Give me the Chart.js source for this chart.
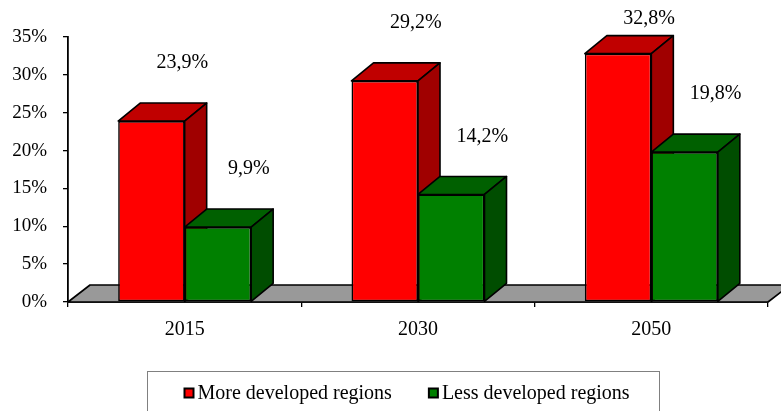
<!DOCTYPE html>
<html>
<head>
<meta charset="utf-8">
<script src="https://cdn.jsdelivr.net/npm/chart.js@4.4.0/dist/chart.umd.min.js"></script>
<style>
  html, body { margin: 0; padding: 0; background: #fff; }
  #wrap { width: 781px; height: 411px; }
</style>
</head>
<body>
<div id="wrap"><canvas id="chart"></canvas></div>
<script>
"use strict";

// data
const years = ["2015", "2030", "2050"];
const moreDeveloped = [23.9, 29.2, 32.8];
const lessDeveloped = [9.9, 14.2, 19.8];
const seriesNames = ["More developed regions", "Less developed regions"];
const yMax = 35;
const yStep = 5;

// look
const FONT = "'Liberation Serif', 'Times New Roman', serif";
const frontColors = ["#ff0000", "#008000"];
const topColors = ["#c00000", "#006000"];
const sideColors = ["#a00000", "#004d00"];
const DX = 22;
const DY = -18;

function fmt(v) {
  return v.toFixed(1).replace(".", ",") + "%";
}

function poly(ctx, pts, fill) {
  ctx.beginPath();
  ctx.moveTo(pts[0][0], pts[0][1]);
  pts.slice(1).forEach((p) => ctx.lineTo(p[0], p[1]));
  ctx.closePath();
  ctx.fillStyle = fill;
  ctx.fill();
  ctx.stroke();
}

// floor + top/side faces, drawn behind the front faces
const depthPlugin = {
  id: "depth",
  beforeDatasetsDraw(chart) {
    const { ctx, chartArea: a } = chart;
    ctx.save();
    ctx.strokeStyle = "#000";
    ctx.lineWidth = 1.6;
    ctx.lineJoin = "round";
    poly(ctx, [
      [a.left, a.bottom],
      [a.left + DX, a.bottom + DY + 1],
      [a.right + DX, a.bottom + DY + 1],
      [a.right, a.bottom],
    ], "#999999");

    years.forEach((_, i) => {
      chart.data.datasets.forEach((ds, d) => {
        const bar = chart.getDatasetMeta(d).data[i];
        const { x, y, base, width } = bar.getProps(["x", "y", "base", "width"], true);
        const l = x - width / 2;
        const r = x + width / 2;
        poly(ctx, [[l, y], [l + DX, y + DY], [r + DX, y + DY], [r, y]], topColors[d]);
        poly(ctx, [[r, y], [r + DX, y + DY], [r + DX, base + DY], [r, base]], sideColors[d]);
      });
    });
    ctx.restore();
  },
  afterDatasetsDraw(chart) {
    const { ctx } = chart;
    ctx.save();
    ctx.font = "20px " + FONT;
    ctx.fillStyle = "#000";
    ctx.textAlign = "center";
    ctx.textBaseline = "middle";
    chart.data.datasets.forEach((ds, d) => {
      chart.getDatasetMeta(d).data.forEach((bar, i) => {
        const { x, y } = bar.getProps(["x", "y"], true);
        const ly = Math.max(19, y - 58);
        ctx.fillText(fmt(ds.data[i]), x + 31, ly);
      });
    });
    ctx.restore();
  },
  afterDraw(chart) {
    const { ctx } = chart;
    ctx.save();
    // legend frame
    ctx.strokeStyle = "#808080";
    ctx.lineWidth = 1;
    ctx.strokeRect(147.5, 371.5, 512, 60);

    ctx.font = "20px " + FONT;
    ctx.textBaseline = "middle";
    const box = 9, gap = 4, between = 37;
    const widths = seriesNames.map((n) => ctx.measureText(n).width);
    const total = widths.reduce((s, w) => s + box + gap + w, 0) + between;
    let x = Math.round(407 - total / 2) + 0.5;
    const cy = 393;
    seriesNames.forEach((name, d) => {
      ctx.fillStyle = frontColors[d];
      ctx.fillRect(x, cy - box / 2, box, box);
      ctx.strokeStyle = "#000";
      ctx.lineWidth = 2;
      ctx.strokeRect(x, cy - box / 2, box, box);
      ctx.fillStyle = "#000";
      ctx.fillText(name, x + box + gap, cy + 1);
      x += box + gap + widths[d] + between;
    });
    ctx.restore();
  },
};

const ctx = document.getElementById("chart").getContext("2d");
const chart = new Chart(ctx, {
  type: "bar",
  data: {
    labels: years,
    datasets: [
      {
        label: seriesNames[0],
        data: moreDeveloped,
        backgroundColor: frontColors[0],
        borderColor: "#000",
        borderWidth: 1.6,
        borderSkipped: false,
      },
      {
        label: seriesNames[1],
        data: lessDeveloped,
        backgroundColor: frontColors[1],
        borderColor: "#000",
        borderWidth: 1.6,
        borderSkipped: false,
      },
    ],
  },
  options: {
    responsive: true,
    maintainAspectRatio: false,
    animation: false,
    devicePixelRatio: 1,
    categoryPercentage: 0.57,
    barPercentage: 1,
    layout: { padding: { top: 37, right: 13, left: 0, bottom: 0 } },
    plugins: {
      legend: { display: false },
      tooltip: { enabled: false },
    },
    scales: {
      x: {
        afterFit: (scale) => { scale.height = 109; },
        grid: {
          offset: true,
          drawOnChartArea: false,
          color: "#000",
          tickLength: 5,
          lineWidth: 1.3,
        },
        border: { color: "#000", width: 1.8 },
        ticks: {
          color: "#000",
          padding: 11,
          font: { family: FONT, size: 20 },
        },
      },
      y: {
        min: 0,
        max: yMax,
        afterFit: (scale) => { scale.width = 68; },
        grid: {
          drawOnChartArea: false,
          color: "#000",
          tickLength: 5,
          lineWidth: 1.3,
        },
        border: { color: "#000", width: 1.8 },
        ticks: {
          stepSize: yStep,
          color: "#000",
          padding: 16,
          font: { family: FONT, size: 19 },
          callback: (v) => v + "%",
        },
      },
    },
  },
  plugins: [depthPlugin],
});
</script>
</body>
</html>
